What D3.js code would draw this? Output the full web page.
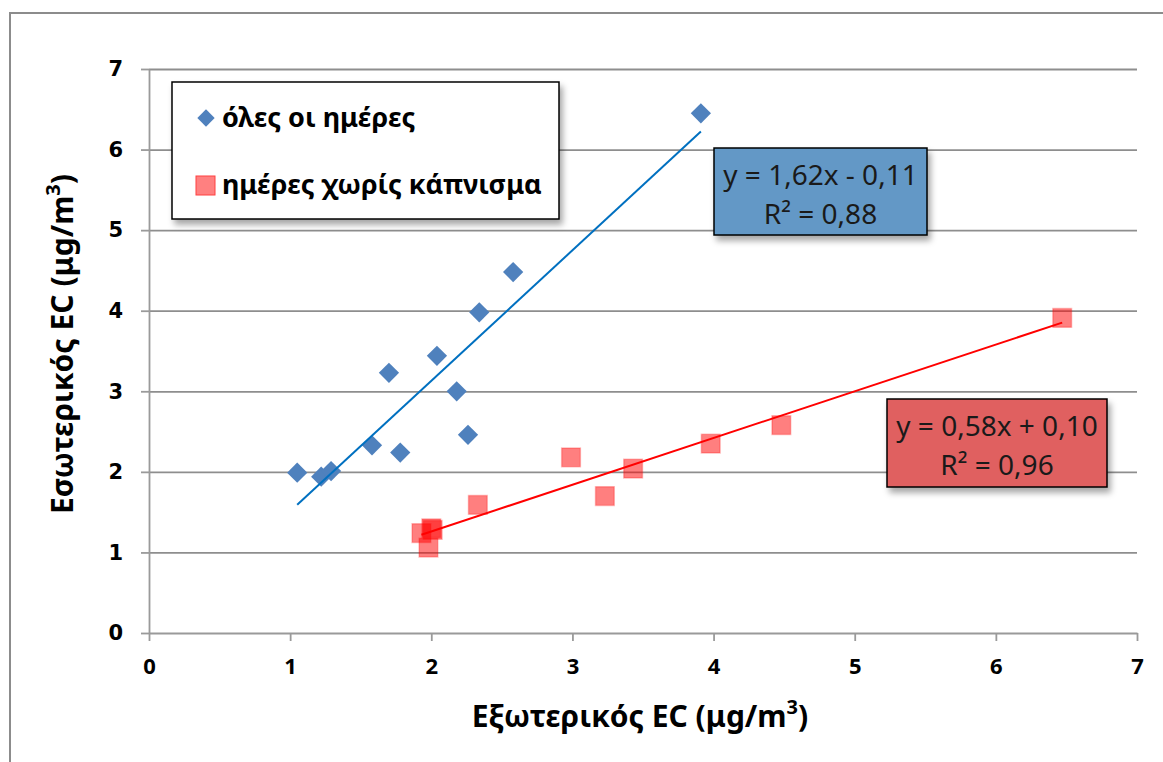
<!DOCTYPE html>
<html>
<head>
<meta charset="utf-8">
<script src="https://cdn.jsdelivr.net/npm/d3@7"></script>
<style>
  body{margin:0;background:#fff;}
  svg{display:block;font-family:"Noto Sans",sans-serif;}
</style>
</head>
<body>
<div class="canvas"></div>
<script>
// data
const outdoorAll=[1.05,1.22,1.29,1.58,1.70,1.78,2.04,2.18,2.26,2.34,2.58,3.91];
const indoorAll =[1.99,1.94,2.01,2.33,3.23,2.24,3.44,3.00,2.46,3.98,4.48,6.45];
const outdoorNoSmoke=[1.93,1.98,2.00,2.01,2.33,2.99,3.23,3.43,3.98,4.48,6.47];
const indoorNoSmoke =[1.24,1.06,1.30,1.28,1.59,2.18,1.70,2.04,2.35,2.58,3.91];
const seriesNames=['όλες οι ημέρες','ημέρες χωρίς κάπνισμα'];
const trendSlope=[1.62,0.58];
const trendIntercept=[-0.11,0.10];
const trendEq=['y = 1,62x - 0,11','y = 0,58x + 0,10'];
const trendR2=['R² = 0,88','R² = 0,96'];
const xTicks=[0,1,2,3,4,5,6,7];
const yTicks=[0,1,2,3,4,5,6,7];

const W=1163,H=762;
const svg=d3.select('.canvas').append('svg')
    .attr('width',W).attr('height',H);

//shadow filter for the boxes
const defs=svg.append('defs');
defs.append('filter').attr('id','shadow')
    .attr('x','-10%').attr('y','-10%').attr('width','130%').attr('height','140%')
  .append('feDropShadow')
    .attr('dx',3).attr('dy',5).attr('stdDeviation',3)
    .attr('flood-color','#000').attr('flood-opacity',0.35);

svg.append('rect').attr('width',W).attr('height',H).attr('fill','#fff');
//outer chart frame
svg.append('rect').attr('x',10).attr('y',13).attr('width',1300).attr('height',900)
    .attr('fill','none').attr('stroke','#8c8c8c').attr('stroke-width',2);

const pLeft=149,pRight=1137,pTop=69,pBottom=633;
const x=d3.scaleLinear().domain([0,7]).range([pLeft,pRight]);
const y=d3.scaleLinear().domain([0,7]).range([pBottom,pTop]);

//gridlines
const grid=svg.append('g').attr('transform',`translate(${pLeft},0)`)
    .call(d3.axisLeft(y).tickValues(yTicks.slice(1)).tickSize(-(pRight-pLeft)).tickFormat(''));
grid.select('.domain').remove();
grid.selectAll('line').attr('stroke','#8e8e8e').attr('stroke-width',1.8);

//axes
const xAxisGroup=svg.append('g').attr('transform',`translate(0,${pBottom})`)
    .call(d3.axisBottom(x).tickValues(xTicks).tickFormat(d3.format('d'))
      .tickSize(8).tickPadding(17).tickSizeOuter(0));
const yAxisGroup=svg.append('g').attr('transform',`translate(${pLeft},0)`)
    .call(d3.axisLeft(y).tickValues(yTicks).tickFormat(d3.format('d'))
      .tickSize(8).tickPadding(18).tickSizeOuter(0));
[xAxisGroup,yAxisGroup].forEach(g=>{
  g.selectAll('.domain,line').attr('stroke','#9a9a9a').attr('stroke-width',1.8);
});
xAxisGroup.selectAll('text').attr('fill','#000').attr('font-size',22).attr('font-weight','bold')
    .attr('font-family','"Noto Sans",sans-serif');
yAxisGroup.selectAll('text').attr('fill','#000').attr('font-size',21).attr('font-weight','bold')
    .attr('font-family','"DejaVu Sans",sans-serif');

//axis titles
const xt=svg.append('text').attr('x',(pLeft+pRight)/2-3).attr('y',727)
    .attr('text-anchor','middle').attr('font-size',30).attr('font-weight','bold')
    .text('Εξωτερικός EC (μg/m');
xt.append('tspan').attr('baseline-shift','super').attr('font-size',20).text('3');
xt.append('tspan').text(')');

const yt=svg.append('text').attr('transform',`translate(73,${(pTop+pBottom)/2-7}) rotate(-90)`)
    .attr('text-anchor','middle').attr('font-size',30).attr('font-weight','bold')
    .text('Εσωτερικός EC (μg/m');
yt.append('tspan').attr('baseline-shift','super').attr('font-size',20).text('3');
yt.append('tspan').text(')');

//points
const diamond=d3.symbol(d3.symbolSquare,205);
const square=d3.symbol(d3.symbolSquare,350);
const blueData=outdoorAll.map((v,i)=>({x:v,y:indoorAll[i]}));
const redData=outdoorNoSmoke.map((v,i)=>({x:v,y:indoorNoSmoke[i]}));

svg.append('g').selectAll('path').data(blueData).enter().append('path')
    .attr('d',diamond)
    .attr('transform',d=>`translate(${x(d.x)},${y(d.y)}) rotate(45)`)
    .attr('fill','#4f81bd');

svg.append('g').selectAll('path').data(redData).enter().append('path')
    .attr('d',square)
    .attr('transform',d=>`translate(${x(d.x)},${y(d.y)})`)
    .attr('fill','#ff0000').attr('fill-opacity',0.5)
    .attr('stroke','#ff0000').attr('stroke-opacity',0.25).attr('stroke-width',1.5);

//trend lines, from min x to max x of each series
const trendColors=['#0070c0','#ff0000'];
[outdoorAll,outdoorNoSmoke].forEach((xs,i)=>{
  const ext=d3.extent(xs);
  const pts=ext.map(v=>[x(v),y(trendSlope[i]*v+trendIntercept[i])]);
  svg.append('path').attr('d',d3.line()(pts))
    .attr('stroke',trendColors[i]).attr('stroke-width',2).attr('fill','none');
});

//equation boxes
const boxes=[{x:714,y:148,w:213,h:87,fill:'#6498c6'},{x:887,y:399,w:220,h:88,fill:'#e06060'}];
boxes.forEach((b,i)=>{
  svg.append('rect').attr('x',b.x).attr('y',b.y).attr('width',b.w).attr('height',b.h)
    .attr('fill',b.fill).attr('stroke','#000').attr('stroke-width',1.5)
    .attr('filter','url(#shadow)');
  svg.append('text').attr('x',b.x+b.w/2).attr('y',b.y+37)
    .attr('text-anchor','middle').attr('font-size',28).attr('fill','#1a1a1a').text(trendEq[i]);
  svg.append('text').attr('x',b.x+b.w/2).attr('y',b.y+76)
    .attr('text-anchor','middle').attr('font-size',28).attr('fill','#1a1a1a').text(trendR2[i]);
});

//legend
const legend=svg.append('g');
legend.append('rect').attr('x',172).attr('y',82).attr('width',387).attr('height',137)
    .attr('fill','#fff').attr('stroke','#000').attr('stroke-width',1.5)
    .attr('filter','url(#shadow)');
legend.append('path').attr('d',d3.symbol(d3.symbolSquare,150))
    .attr('transform','translate(206,118) rotate(45)').attr('fill','#4f81bd');
legend.append('rect').attr('x',196).attr('y',176).attr('width',19).attr('height',19)
    .attr('fill','#ff8080').attr('stroke','#ff4040').attr('stroke-width',1);
legend.selectAll('text.lab').data(seriesNames).enter().append('text')
    .attr('class','lab')
    .attr('x',222).attr('y',(d,i)=>[127,194][i])
    .attr('font-size',27).attr('font-weight','bold').attr('fill','#000')
    .text(d=>d);
</script>
</body>
</html>
